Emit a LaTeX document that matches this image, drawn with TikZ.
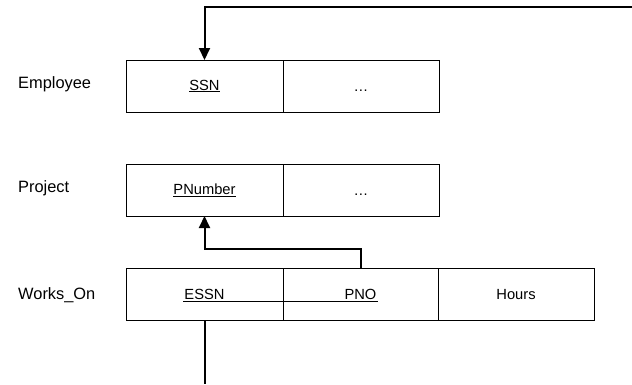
\documentclass[tikz,border=0pt]{standalone}
\usepackage{fontspec}
\setmainfont{Liberation Sans}
\usetikzlibrary{arrows.meta}
\begin{document}
\begin{tikzpicture}[x=1pt,y=-1pt,
  cell/.style={draw,line width=0.9pt,minimum height=52pt,inner sep=0pt,outer sep=0pt,
    font=\fontsize{14.7}{16}\selectfont},
  lbl/.style={anchor=base west,inner sep=0pt,font=\fontsize{16.4}{18}\selectfont},
  conn/.style={line width=2pt,-{Triangle[length=12pt,width=11pt]}},
  plain/.style={line width=2pt}]
\useasboundingbox (0,0) rectangle (632,384);
% labels
\node[lbl] (lemp) at (18,88) {Employee};
\node[lbl] (lproj) at (18,192) {Project};
\node[lbl] (lwo) at (18,299) {Works\_On};
% Employee
\node[cell,minimum width=157pt] (emp1) at (204.5,86) {\vphantom{SSN}\underline{SSN}};
\node[cell,minimum width=156pt] (emp2) at (361,86) {\vphantom{SSN}\dots};
% Project
\node[cell,minimum width=157pt] (proj1) at (204.5,190) {\vphantom{SSN}\underline{PNumber}};
\node[cell,minimum width=156pt] (proj2) at (361,190) {\vphantom{SSN}\dots};
% Works_On
\node[cell,minimum width=157pt] (wo1) at (204.5,294) {\vphantom{SSN}ESSN};
\node[cell,minimum width=155pt] (wo2) at (360.5,294) {\vphantom{SSN}PNO};
\node[cell,minimum width=156pt] (wo3) at (516,294) {\vphantom{SSN}Hours};
% shared underline of ESSN and PNO
\draw[line width=0.8pt] (183,301) -- (378,301);
% connectors
\coordinate (topright) at (632,7);
\coordinate (bottom) at (204.5,384);
\draw[conn] (topright) -| (emp1.north);
\draw[conn] (wo2.north) -- ++(0,-19) -| (proj1.south);
\draw[plain] (wo1.south) -- (bottom);
\end{tikzpicture}
\end{document}
